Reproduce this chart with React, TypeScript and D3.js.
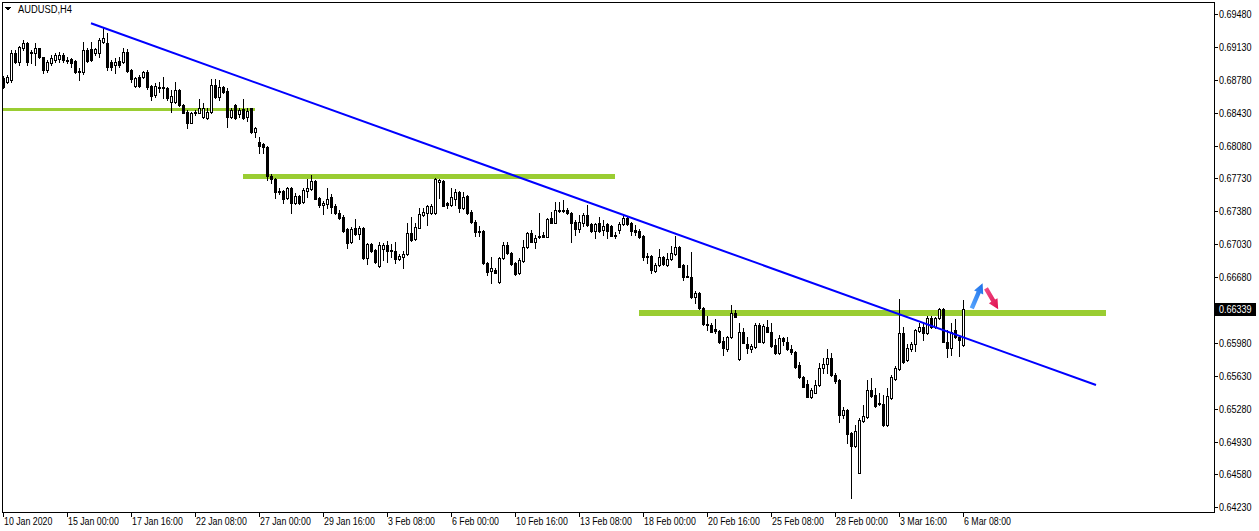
import React from 'react';
import * as d3 from 'd3';

const W = 1259;
const H = 531;

const symbolTitle = 'AUDUSD,H4';

const open = [
  0.68799,0.68756,0.68778,0.69065,0.68969,0.69118,0.69171,0.69065,0.69065,0.69118,
  0.69022,0.68884,0.68959,0.68990,0.69001,0.69044,0.68990,0.69001,0.68980,0.68873,
  0.68863,0.69097,0.69108,0.69065,0.69065,0.69182,0.69171,0.68969,0.68937,0.68980,
  0.68969,0.69076,0.68884,0.68714,0.68810,0.68810,0.68863,0.68714,0.68618,0.68703,
  0.68692,0.68692,0.68544,0.68544,0.68671,0.68512,0.68437,0.68320,0.68426,0.68426,
  0.68384,0.68373,0.68437,0.68724,0.68597,0.68703,0.68661,0.68384,0.68512,0.68416,
  0.68469,0.68384,0.68480,0.68224,0.68118,0.68097,0.68065,0.67756,0.67724,0.67586,
  0.67596,0.67522,0.67628,0.67469,0.67543,0.67479,0.67596,0.67618,0.67703,0.67522,
  0.67447,0.67458,0.67532,0.67437,0.67362,0.67320,0.67192,0.67054,0.67203,0.67139,
  0.67203,0.66883,0.67032,0.66968,0.66798,0.66979,0.67022,0.66968,0.66958,0.66873,
  0.66894,0.66926,0.67149,0.67086,0.67203,0.67341,0.67362,0.67362,0.67362,0.67692,
  0.67703,0.67469,0.67447,0.67511,0.67586,0.67416,0.67543,0.67373,0.67267,0.67171,
  0.67171,0.66830,0.66745,0.66756,0.66628,0.66883,0.67022,0.66937,0.66830,0.66724,
  0.66851,0.67000,0.67149,0.67054,0.67117,0.67128,0.67107,0.67309,0.67256,0.67384,
  0.67384,0.67394,0.67362,0.67267,0.67192,0.67256,0.67341,0.67245,0.67171,0.67256,
  0.67181,0.67245,0.67224,0.67128,0.67181,0.67245,0.67309,0.67256,0.67181,0.67171,
  0.67117,0.66905,0.66905,0.66745,0.66809,0.66894,0.66809,0.66873,0.66926,0.67000,
  0.66809,0.66692,0.66681,0.66468,0.66511,0.66351,0.66181,0.66170,0.66128,0.66107,
  0.66000,0.65915,0.66043,0.66298,0.65809,0.66096,0.65968,0.65915,0.65936,0.66170,
  0.65990,0.66149,0.66096,0.65958,0.65873,0.66032,0.65990,0.65915,0.65883,0.65745,
  0.65617,0.65543,0.65404,0.65447,0.65532,0.65713,0.65756,0.65819,0.65638,0.65585,
  0.65213,0.65266,0.65021,0.64883,0.64596,0.65149,0.65191,0.65479,0.65426,0.65340,
  0.65330,0.65106,0.65394,0.65596,0.65702,0.66085,0.65798,0.65915,0.65968,0.66107,
  0.66149,0.66085,0.66245,0.66149,0.66245,0.66341,0.65990,0.65926,0.66117,0.66043,
  0.65958,
];

const high = [
  0.68820,0.68831,0.69097,0.69097,0.69139,0.69203,0.69182,0.69097,0.69171,0.69118,
  0.69022,0.68990,0.69044,0.69065,0.69076,0.69065,0.69022,0.69012,0.68990,0.68905,
  0.69182,0.69118,0.69182,0.69118,0.69225,0.69331,0.69278,0.68990,0.69012,0.69022,
  0.69118,0.69108,0.68895,0.68810,0.68831,0.68873,0.68884,0.68724,0.68746,0.68756,
  0.68810,0.68703,0.68671,0.68756,0.68682,0.68522,0.68458,0.68437,0.68458,0.68575,
  0.68533,0.68480,0.68788,0.68788,0.68778,0.68714,0.68692,0.68480,0.68522,0.68480,
  0.68575,0.68480,0.68480,0.68278,0.68171,0.68107,0.68075,0.67777,0.67735,0.67628,
  0.67607,0.67639,0.67639,0.67575,0.67554,0.67628,0.67724,0.67767,0.67713,0.67532,
  0.67490,0.67628,0.67564,0.67458,0.67394,0.67341,0.67203,0.67213,0.67298,0.67224,
  0.67213,0.67043,0.67043,0.66979,0.67054,0.67043,0.67064,0.67032,0.67054,0.66926,
  0.66958,0.67256,0.67320,0.67256,0.67416,0.67416,0.67447,0.67458,0.67735,0.67724,
  0.67713,0.67479,0.67628,0.67618,0.67596,0.67586,0.67554,0.67394,0.67288,0.67224,
  0.67181,0.66841,0.66894,0.66777,0.66894,0.67054,0.67054,0.66947,0.66841,0.66883,
  0.67075,0.67160,0.67181,0.67128,0.67362,0.67160,0.67309,0.67373,0.67479,0.67479,
  0.67501,0.67416,0.67373,0.67288,0.67341,0.67362,0.67447,0.67256,0.67256,0.67320,
  0.67288,0.67256,0.67235,0.67160,0.67267,0.67330,0.67330,0.67267,0.67235,0.67192,
  0.67128,0.66937,0.66915,0.66830,0.66979,0.66905,0.66937,0.67011,0.67117,0.67011,
  0.66820,0.66809,0.66947,0.66532,0.66522,0.66362,0.66266,0.66192,0.66234,0.66117,
  0.66043,0.66053,0.66383,0.66330,0.66192,0.66138,0.66043,0.65968,0.66192,0.66192,
  0.66181,0.66224,0.66192,0.66021,0.66064,0.66043,0.66043,0.65958,0.65894,0.65777,
  0.65628,0.65585,0.65500,0.65585,0.65766,0.65819,0.65915,0.65873,0.65660,0.65596,
  0.65298,0.65277,0.65032,0.65106,0.65181,0.65319,0.65585,0.65607,0.65500,0.65447,
  0.65426,0.65500,0.65638,0.65734,0.66447,0.66149,0.65968,0.65990,0.66128,0.66192,
  0.66192,0.66266,0.66266,0.66255,0.66351,0.66351,0.66117,0.66192,0.66234,0.66064,
  0.66436,
];

const low = [
  0.68692,0.68746,0.68756,0.68959,0.68937,0.69097,0.68937,0.68959,0.68937,0.69012,
  0.68852,0.68863,0.68937,0.68969,0.68969,0.68969,0.68959,0.68916,0.68852,0.68778,
  0.68841,0.68969,0.68980,0.69044,0.69022,0.69171,0.68884,0.68884,0.68852,0.68916,
  0.68959,0.68863,0.68756,0.68703,0.68703,0.68799,0.68682,0.68565,0.68597,0.68650,
  0.68586,0.68565,0.68437,0.68533,0.68501,0.68426,0.68267,0.68320,0.68405,0.68426,
  0.68373,0.68363,0.68426,0.68586,0.68565,0.68639,0.68278,0.68373,0.68363,0.68384,
  0.68363,0.68341,0.68214,0.68171,0.68001,0.68001,0.67713,0.67681,0.67522,0.67564,
  0.67469,0.67511,0.67362,0.67458,0.67458,0.67469,0.67532,0.67607,0.67511,0.67426,
  0.67352,0.67416,0.67362,0.67352,0.67298,0.67160,0.66990,0.67043,0.67128,0.67086,
  0.66873,0.66820,0.66947,0.66830,0.66788,0.66862,0.66841,0.66894,0.66830,0.66862,
  0.66777,0.66915,0.67064,0.67075,0.67203,0.67330,0.67235,0.67352,0.67352,0.67522,
  0.67437,0.67416,0.67437,0.67447,0.67373,0.67405,0.67352,0.67256,0.67117,0.67117,
  0.66820,0.66702,0.66617,0.66724,0.66617,0.66873,0.66926,0.66809,0.66702,0.66713,
  0.66841,0.66990,0.67054,0.66990,0.67096,0.67107,0.67107,0.67256,0.67256,0.67373,
  0.67373,0.67352,0.67054,0.67128,0.67160,0.67224,0.67224,0.67160,0.67096,0.67160,
  0.67128,0.67096,0.67117,0.67096,0.67149,0.67235,0.67235,0.67128,0.67128,0.67096,
  0.66862,0.66830,0.66724,0.66734,0.66798,0.66809,0.66798,0.66862,0.66915,0.66788,
  0.66649,0.66681,0.66458,0.66404,0.66341,0.66170,0.66117,0.66096,0.66085,0.65979,
  0.65851,0.65894,0.66032,0.66255,0.65798,0.65979,0.65873,0.65883,0.65926,0.65990,
  0.65979,0.66096,0.65936,0.65862,0.65862,0.65958,0.65904,0.65862,0.65713,0.65607,
  0.65511,0.65404,0.65394,0.65447,0.65521,0.65660,0.65660,0.65628,0.65553,0.65138,
  0.65181,0.64915,0.64330,0.64872,0.64596,0.65138,0.65181,0.65404,0.65298,0.65319,
  0.65096,0.65096,0.65383,0.65585,0.65692,0.65766,0.65787,0.65894,0.65894,0.66096,
  0.66011,0.66075,0.66138,0.66138,0.66234,0.65990,0.65830,0.65851,0.66032,0.65841,
  0.65947,
];

const close = [
  0.68703,0.68810,0.69065,0.68969,0.69129,0.69171,0.68969,0.69076,0.69118,0.69022,
  0.68884,0.68969,0.69012,0.69044,0.69044,0.68990,0.68980,0.68959,0.68863,0.68863,
  0.69097,0.68980,0.68990,0.69108,0.69203,0.69225,0.68916,0.68916,0.68969,0.68937,
  0.69076,0.68873,0.68788,0.68799,0.68714,0.68863,0.68703,0.68607,0.68714,0.68692,
  0.68703,0.68586,0.68607,0.68671,0.68512,0.68426,0.68320,0.68426,0.68437,0.68480,
  0.68480,0.68437,0.68724,0.68597,0.68703,0.68650,0.68384,0.68458,0.68373,0.68458,
  0.68373,0.68448,0.68224,0.68267,0.68075,0.68065,0.67756,0.67724,0.67586,0.67596,
  0.67511,0.67628,0.67469,0.67543,0.67469,0.67607,0.67628,0.67703,0.67511,0.67447,
  0.67469,0.67511,0.67426,0.67362,0.67309,0.67171,0.67043,0.67192,0.67139,0.67203,
  0.66883,0.67032,0.66958,0.66841,0.67022,0.67022,0.66958,0.66958,0.66873,0.66905,
  0.66926,0.67149,0.67075,0.67213,0.67352,0.67373,0.67437,0.67437,0.67724,0.67713,
  0.67437,0.67447,0.67532,0.67586,0.67416,0.67532,0.67362,0.67267,0.67160,0.67160,
  0.66830,0.66734,0.66777,0.66724,0.66883,0.67022,0.66937,0.66820,0.66713,0.66862,
  0.67000,0.67149,0.67054,0.67096,0.67107,0.67107,0.67298,0.67256,0.67394,0.67394,
  0.67394,0.67362,0.67256,0.67192,0.67267,0.67341,0.67235,0.67171,0.67245,0.67171,
  0.67224,0.67171,0.67117,0.67117,0.67245,0.67309,0.67245,0.67171,0.67160,0.67107,
  0.66894,0.66894,0.66756,0.66809,0.66894,0.66820,0.66873,0.66937,0.67000,0.66788,
  0.66681,0.66681,0.66468,0.66511,0.66351,0.66181,0.66170,0.66096,0.66107,0.65990,
  0.65926,0.66043,0.66298,0.66255,0.66096,0.65979,0.65926,0.65947,0.66170,0.65990,
  0.66160,0.66096,0.65947,0.65873,0.66032,0.66000,0.65915,0.65883,0.65724,0.65617,
  0.65511,0.65404,0.65479,0.65532,0.65713,0.65756,0.65819,0.65638,0.65575,0.65213,
  0.65266,0.65011,0.64883,0.65043,0.65159,0.65202,0.65479,0.65415,0.65308,0.65330,
  0.65106,0.65415,0.65617,0.65713,0.66085,0.65777,0.65926,0.65968,0.66117,0.66149,
  0.66085,0.66245,0.66149,0.66245,0.66341,0.65990,0.65926,0.66096,0.66043,0.66011,
  0.66339,
];

const priceTicks = [
  0.69480, 0.69130, 0.68780, 0.68430, 0.68080, 0.67730, 0.67380, 0.67030,
  0.66680, 0.65980, 0.65630, 0.65280, 0.64930, 0.64580, 0.64230,
];

const timeTickIndex = [0, 16, 32, 48, 64, 80, 96, 112, 128, 144, 160, 176, 192, 208, 224, 240];
const timeTickLabels = [
  '10 Jan 2020', '15 Jan 00:00', '17 Jan 16:00', '22 Jan 08:00', '27 Jan 00:00',
  '29 Jan 16:00', '3 Feb 08:00', '6 Feb 00:00', '10 Feb 16:00', '13 Feb 08:00',
  '18 Feb 00:00', '20 Feb 16:00', '25 Feb 08:00', '28 Feb 00:00', '3 Mar 16:00', '6 Mar 08:00',
];

const currentPrice = 0.66339;

// horizontal levels: price, start bar, end bar, thickness
const levelPrices = [0.68467, 0.67752, 0.66295];
const levelStart = [-1, 60, 159];
const levelEnd = [63, 153, 275.75];
const levelWidth = [3, 5, 6];

// trend line anchors (bar index, price)
const trendBars = [22, 273.25];
const trendPrices = [0.69381, 0.65531];

// arrows: tail and tip (bar index, price)
const upArrow = { tailBar: 242.2, tailPrice: 0.66348, tipBar: 244.9, tipPrice: 0.66614 };
const downArrow = { tailBar: 245.75, tailPrice: 0.66561, tipBar: 248.8, tipPrice: 0.66337 };

const FONT = "'Liberation Sans', Arial, sans-serif";

function arrowPath(x1: number, y1: number, x2: number, y2: number) {
  const dx = x2 - x1, dy = y2 - y1;
  const len = Math.hypot(dx, dy);
  const ux = dx / len, uy = dy / len;
  const nx = -uy, ny = ux;
  const headLen = 10, headW = 5, shaftW = 2.2;
  const bx = x2 - ux * headLen, by = y2 - uy * headLen;
  const pts = [
    [x1 + nx * shaftW, y1 + ny * shaftW],
    [bx + nx * shaftW, by + ny * shaftW],
    [bx + nx * headW, by + ny * headW],
    [x2, y2],
    [bx - nx * headW, by - ny * headW],
    [bx - nx * shaftW, by - ny * shaftW],
    [x1 - nx * shaftW, y1 - ny * shaftW],
  ];
  return 'M' + pts.map(p => p[0].toFixed(2) + ',' + p[1].toFixed(2)).join('L') + 'Z';
}

function Label({ x, y, text, fill = '#000', sx = 0.8 }: { x: number; y: number; text: string; fill?: string; sx?: number }) {
  return (
    <text transform={`translate(${x},${y}) scale(${sx},1)`} fontFamily={FONT} fontSize={11} fill={fill}>
      {text}
    </text>
  );
}

export default function App() {
  const x = d3.scaleLinear().domain([0, 240]).range([3, 963]);
  const y = d3.scaleLinear().domain([0.64230, 0.69480]).range([507.3, 14]);
  const ry = (v: number) => Math.round(y(v));

  const candles = open.map((o, i) => {
    const c = close[i];
    const cx = Math.round(x(i));
    const top = ry(Math.max(o, c));
    const bot = ry(Math.min(o, c));
    const hi = ry(high[i]);
    const lo = ry(low[i]);
    const bull = c > o;
    return (
      <g key={i}>
        <line x1={cx + 0.5} x2={cx + 0.5} y1={hi} y2={lo + 1} stroke="#000" strokeWidth={1} />
        {bull ? (
          <rect x={cx - 0.5} y={top + 0.5} width={2} height={Math.max(1, bot - top)} fill="#fff" stroke="#000" strokeWidth={1} />
        ) : (
          <rect x={cx - 1} y={top} width={3} height={Math.max(1, bot - top + 1)} fill="#000" />
        )}
      </g>
    );
  });

  const tagY = y(currentPrice);

  return (
    <svg width={W} height={H} style={{ position: 'absolute', left: 0, top: 0, background: '#fff' }} shapeRendering="crispEdges">
      <rect x={0} y={0} width={W} height={H} fill="#fff" />
      {levelPrices.map((p, k) => (
        <line key={'lv' + k} x1={Math.max(3, x(levelStart[k]))} x2={x(levelEnd[k])} y1={y(p)} y2={y(p)}
          stroke="#9ACD32" strokeWidth={levelWidth[k]} />
      ))}
      <g>{candles}</g>
      <line x1={x(trendBars[0])} y1={y(trendPrices[0])} x2={x(trendBars[1])} y2={y(trendPrices[1])}
        stroke="#0000FF" strokeWidth={2} shapeRendering="auto" />
      <defs>
        <linearGradient id="gUp" x1="0" y1="1" x2="1" y2="0">
          <stop offset="0" stopColor="#5AA8FF" />
          <stop offset="1" stopColor="#1C6FE8" />
        </linearGradient>
        <linearGradient id="gDn" x1="0" y1="0" x2="1" y2="1">
          <stop offset="0" stopColor="#F0508A" />
          <stop offset="1" stopColor="#E0104E" />
        </linearGradient>
      </defs>
      <path d={arrowPath(x(upArrow.tailBar), y(upArrow.tailPrice), x(upArrow.tipBar), y(upArrow.tipPrice))}
        fill="url(#gUp)" shapeRendering="auto" />
      <path d={arrowPath(x(downArrow.tailBar), y(downArrow.tailPrice), x(downArrow.tipBar), y(downArrow.tipPrice))}
        fill="url(#gDn)" shapeRendering="auto" />
      <rect x={2.5} y={2.5} width={1211.5} height={509.5} fill="none" stroke="#000" strokeWidth={1} />
      <polygon points="5,7 11,7 8,11" fill="#000" />
      <Label x={18} y={13} text={symbolTitle} sx={0.85} />
      {priceTicks.map((p, k) => (
        <g key={'pt' + k}>
          <line x1={1214} x2={1218} y1={Math.round(y(p)) + 0.5} y2={Math.round(y(p)) + 0.5} stroke="#000" />
          <Label x={1219} y={y(p) + 4} text={p.toFixed(5)} sx={0.82} />
        </g>
      ))}
      <rect x={1215} y={Math.round(tagY) - 6} width={41} height={13} fill="#000" />
      <Label x={1219} y={tagY + 4} text={currentPrice.toFixed(5)} fill="#fff" sx={0.82} />
      {timeTickIndex.map((idx, k) => (
        <g key={'tt' + k}>
          <line x1={Math.round(x(idx)) + 0.5} x2={Math.round(x(idx)) + 0.5} y1={512} y2={517} stroke="#000" />
          <Label x={Math.round(x(idx)) + 1} y={525} text={timeTickLabels[k]} sx={0.8} />
        </g>
      ))}
    </svg>
  );
}
